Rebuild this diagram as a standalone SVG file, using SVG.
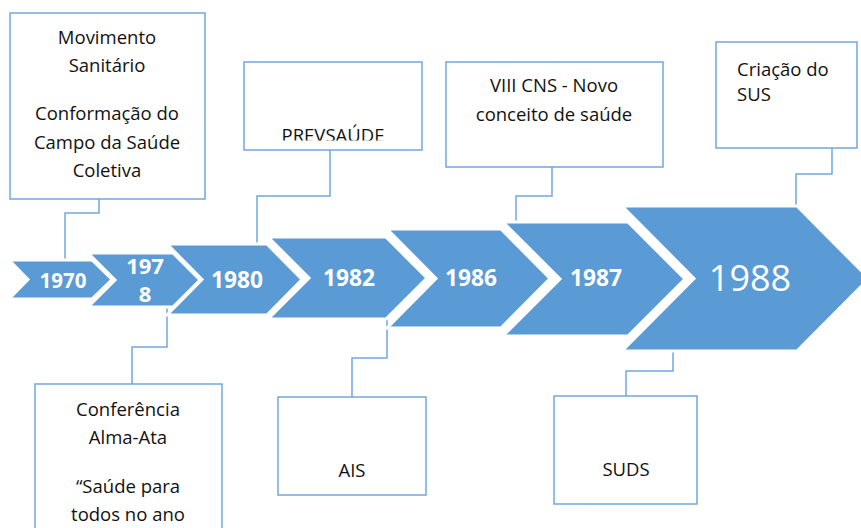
<svg xmlns="http://www.w3.org/2000/svg" width="861" height="528" viewBox="0 0 861 528">
<defs>
<style>
.chev{fill:#5B9BD5;stroke:#FFFFFF;stroke-width:3;stroke-linejoin:miter}
.yr{font-family:"Open Sans","Liberation Sans",sans-serif;font-weight:bold;fill:#FFFFFF;text-anchor:middle}
.yrbig{font-family:"Open Sans","Liberation Sans",sans-serif;font-weight:normal;fill:#FFFFFF;text-anchor:middle;font-size:36px}
.box{fill:#FFFFFF;stroke:#72A6DD;stroke-width:1.5}
.lbl{font-family:"Open Sans","Liberation Sans",sans-serif;font-size:18.5px;fill:#111111;text-anchor:middle}
.lbll{font-family:"Open Sans","Liberation Sans",sans-serif;font-size:18.5px;fill:#111111;text-anchor:start}
.conn{fill:none;stroke:#72A6DD;stroke-width:1.5}
</style>
<clipPath id="prevClip"><rect x="244" y="62" width="178" height="78.5"/></clipPath>
</defs>
<rect x="0" y="0" width="861" height="528" fill="#FFFFFF"/>

<g id="connectors">
<path class="conn" d="M99,199 V213 H65 V260"/>
<path class="conn" d="M330,150 V196 H257 V244"/>
<path class="conn" d="M552,167 V196 H516 V222"/>
<path class="conn" d="M832,148 V174 H796 V206"/>
<path class="conn" d="M167,307 V347 H132 V384"/>
<path class="conn" d="M387,319 V358 H352 V397"/>
<path class="conn" d="M673,351 V371 H626 V396"/>
</g>

<g id="y1970">
<polygon class="chev" points="9,260 92,260 112,279.5 92,299 9,299 28,279.5"/>
<text class="yr" x="63" y="288" font-size="20.5">1970</text>
</g>
<g id="y1978">
<polygon class="chev" points="88,253 173,253 200,280 173,307 88,307 115,280"/>
<text class="yr" x="145" y="274" font-size="22">197</text>
<text class="yr" x="145" y="302" font-size="22">8</text>
</g>
<g id="y1980">
<polygon class="chev" points="167,244 267,244 302,279.5 267,315 167,315 202,279.5"/>
<text class="yr" x="237" y="288" font-size="22.7">1980</text>
</g>
<g id="y1982">
<polygon class="chev" points="268,237 386,237 427,278 386,319 268,319 309,278"/>
<text class="yr" x="349" y="286" font-size="22.7">1982</text>
</g>
<g id="y1986">
<polygon class="chev" points="387,229 501,229 550,278.5 501,328 387,328 436,278.5"/>
<text class="yr" x="471" y="286" font-size="22.7">1986</text>
</g>
<g id="y1987">
<polygon class="chev" points="503,222 628,222 685,279 628,336 503,336 560,279"/>
<text class="yr" x="596" y="286" font-size="22.7">1987</text>
</g>
<g id="y1988">
<polygon class="chev" points="622,206 797,206 869,278.5 797,351 622,351 694,278.5"/>
<text class="yrbig" x="750" y="291">1988</text>
</g>

<g id="box-movimento">
<rect class="box" x="10" y="13" width="195" height="186"/>
<text class="lbl" x="107" y="44">Movimento</text>
<text class="lbl" x="107" y="72">Sanitário</text>
<text class="lbl" x="107" y="120">Conformação do</text>
<text class="lbl" x="107" y="149">Campo da Saúde</text>
<text class="lbl" x="107" y="177">Coletiva</text>
</g>

<g id="box-prevsaude">
<rect class="box" x="244" y="62" width="178" height="88"/>
<text class="lbl" x="333" y="142" clip-path="url(#prevClip)">PREVSAÚDE</text>
</g>

<g id="box-viiicns">
<rect class="box" x="446" y="62" width="217" height="105"/>
<text class="lbl" x="554" y="92">VIII CNS - Novo</text>
<text class="lbl" x="554" y="121">conceito de saúde</text>
</g>

<g id="box-sus">
<rect class="box" x="716" y="42" width="141" height="106"/>
<text class="lbll" x="737" y="76">Criação do</text>
<text class="lbll" x="737" y="101">SUS</text>
</g>

<g id="box-almaata">
<rect class="box" x="35" y="384" width="187" height="160"/>
<text class="lbl" x="128" y="416">Conferência</text>
<text class="lbl" x="128" y="444">Alma-Ata</text>
<text class="lbl" x="128" y="493">“Saúde para</text>
<text class="lbl" x="128" y="521">todos no ano</text>
</g>

<g id="box-ais">
<rect class="box" x="278" y="397" width="148" height="98"/>
<text class="lbl" x="352" y="477">AIS</text>
</g>

<g id="box-suds">
<rect class="box" x="554" y="396" width="143" height="108"/>
<text class="lbl" x="626" y="476">SUDS</text>
</g>
</svg>
